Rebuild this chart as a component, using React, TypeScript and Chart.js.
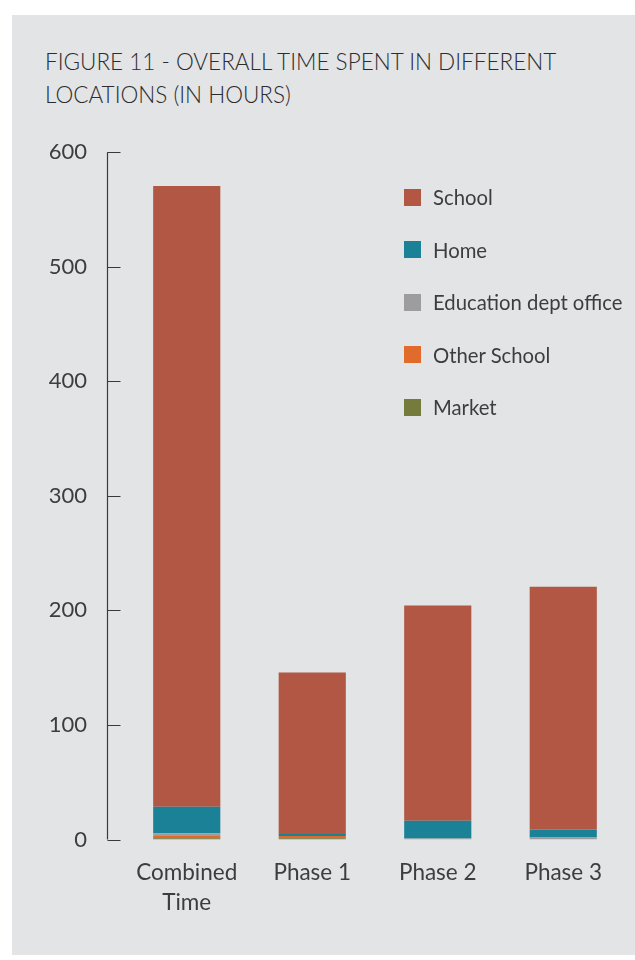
import React, { useEffect, useRef } from "react";
import { Chart, registerables } from "chart.js";

Chart.register(...registerables);

const categories: (string | string[])[] = [["Combined", "Time"], "Phase 1", "Phase 2", "Phase 3"];
const seriesNames = ["School", "Home", "Education dept office", "Other School", "Market"];
const seriesColors = ["#b15743", "#1a8197", "#9d9d9f", "#e06b2b", "#747b3c"];
const schoolHours = [542, 141, 188, 212];
const homeHours = [23, 1.8, 15.5, 7];
const eduOfficeHours = [2.5, 0, 0.8, 1.7];
const otherSchoolHours = [2, 2, 0, 0];
const marketHours = [1, 1, 0, 0];
const yTicks = [0, 100, 200, 300, 400, 500, 600];

const titleLines = ["FIGURE 11 - OVERALL TIME SPENT IN DIFFERENT", "LOCATIONS (IN HOURS)"];

const FONT = "Lato, 'Open Sans', sans-serif";
const TEXT = "#3d3d3f";
const AXIS_GAP = 17;
const TICK_LEN = 13;

const yAxisPlugin = {
  id: "yAxisLine",
  afterDraw(chart: any) {
    const ys = chart.scales.y;
    const ctx = chart.ctx;
    const x0 = Math.round(chart.chartArea.left - AXIS_GAP) + 0.5;
    const top = ys.getPixelForValue(ys.max);
    const bottom = ys.getPixelForValue(ys.min);
    ctx.save();
    ctx.strokeStyle = "#3a3a3a";
    ctx.lineWidth = 1.2;
    ctx.beginPath();
    ctx.moveTo(x0, top);
    ctx.lineTo(x0, bottom);
    ys.ticks.forEach((t: any) => {
      const y = Math.round(ys.getPixelForValue(t.value)) + 0.5;
      ctx.moveTo(x0, y);
      ctx.lineTo(x0 + TICK_LEN, y);
    });
    ctx.stroke();
    ctx.restore();
  },
};

export default function App() {
  const ref = useRef<HTMLCanvasElement>(null);

  useEffect(() => {
    if (!ref.current) return;
    const values = [schoolHours, homeHours, eduOfficeHours, otherSchoolHours, marketHours];
    // stack order: Market at bottom, School on top
    const order = [4, 3, 2, 1, 0];
    const chart = new Chart(ref.current, {
      type: "bar",
      data: {
        labels: categories,
        datasets: order.map((i) => ({
          label: seriesNames[i],
          data: values[i],
          backgroundColor: seriesColors[i],
          borderWidth: 0,
          barPercentage: 0.535,
          categoryPercentage: 1,
        })),
      },
      options: {
        animation: false,
        responsive: false,
        maintainAspectRatio: false,
        layout: { padding: { top: 8, right: 9, bottom: 0, left: 0 } },
        plugins: {
          legend: { display: false },
          tooltip: { enabled: false },
          title: { display: false },
        },
        scales: {
          x: {
            stacked: true,
            grid: { display: false },
            border: { display: false },
            ticks: {
              color: TEXT,
              font: { family: FONT, size: 22.5, lineHeight: 1.3 },
              padding: 11,
              maxRotation: 0,
            },
          },
          y: {
            stacked: true,
            min: 0,
            max: 600,
            afterFit(scale: any) {
              scale.width = 112;
            },
            afterBuildTicks(scale: any) {
              scale.ticks = yTicks.map((v) => ({ value: v }));
            },
            grid: { display: false, drawTicks: false },
            border: { display: false },
            ticks: {
              color: TEXT,
              font: { family: FONT, size: 22 },
              padding: 37,
            },
          },
        },
      },
      plugins: [yAxisPlugin],
    });
    return () => chart.destroy();
  }, []);

  return (
    <div
      style={{
        position: "absolute",
        left: 12,
        top: 15,
        width: 623,
        height: 940,
        background: "#e3e4e6",
        fontFamily: FONT,
        color: TEXT,
      }}
    >
      <div
        style={{
          position: "absolute",
          left: 33,
          top: 30,
          fontSize: 22.5,
          lineHeight: "33px",
          fontWeight: 300,
          color: "#2c2c2e",
          whiteSpace: "nowrap",
        }}
      >
        {titleLines.map((l) => (
          <div key={l}>{l}</div>
        ))}
      </div>
      <canvas
        ref={ref}
        width={623}
        height={826}
        style={{ position: "absolute", left: 0, top: 87, width: 623, height: 826 }}
      />
      <div style={{ position: "absolute", left: 392, top: 156 }}>
        {seriesNames.map((n, i) => (
          <div
            key={n}
            style={{ display: "flex", alignItems: "center", height: 52.5, fontSize: 20.3 }}
          >
            <span
              style={{
                display: "inline-block",
                width: 17,
                height: 17,
                background: seriesColors[i],
                marginRight: 12,
              }}
            />
            <span>{n}</span>
          </div>
        ))}
      </div>
    </div>
  );
}
